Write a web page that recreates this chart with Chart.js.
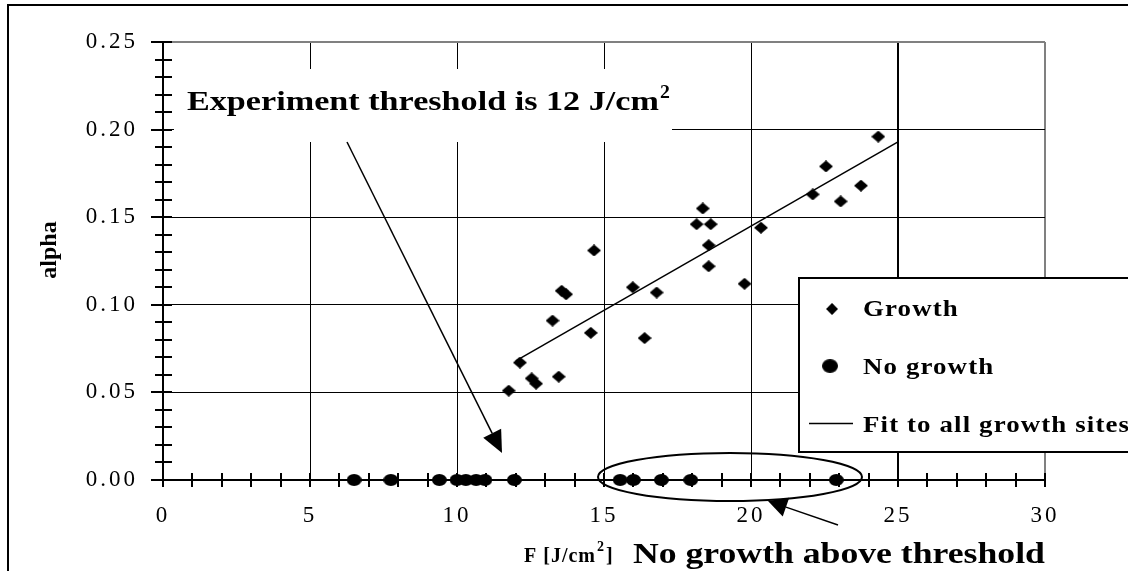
<!DOCTYPE html>
<html>
<head>
<meta charset="utf-8">
<script src="https://cdn.jsdelivr.net/npm/chart.js@4.4.1/dist/chart.umd.min.js"></script>
<style>
body{margin:0;background:#fff}
canvas{display:block}
</style>
</head>
<body>
<canvas id="mychart" width="1128" height="571"></canvas>
<script>
// growth sites (F in J/cm2, alpha)
const growthF = [11.76,12.14,12.54,12.69,13.25,13.46,13.56,13.71,14.55,14.66,15.98,16.38,16.79,18.15,18.36,18.56,18.56,18.63,19.78,20.34,22.1,22.55,23.05,23.74,24.33]
const growthAlpha = [0.051,0.067,0.058,0.055,0.091,0.059,0.108,0.106,0.084,0.131,0.110,0.081,0.107,0.146,0.155,0.134,0.122,0.146,0.112,0.144,0.163,0.179,0.159,0.168,0.196]

// no growth sites, all on alpha = 0
const noGrowthF = [6.5,7.75,9.4,10.0,10.3,10.65,10.95,11.95,15.55,16.0,16.95,17.95,22.9]
const noGrowthAlpha = [0,0,0,0,0,0,0,0,0,0,0,0,0]

// linear fit to all growth sites
const fitF = [12, 25]
const fitAlpha = [0.068, 0.193]

const seriesNames = ['Growth', 'No growth', 'Fit to all growth sites']
const xTicks = [0, 5, 10, 15, 20, 25, 30]
const yTicks = [0, 0.05, 0.10, 0.15, 0.20, 0.25]

const serif = '"Liberation Serif", "Times New Roman", serif'

function makeMarker(w, h, round) {
	const c = document.createElement('canvas')
	c.width = w
	c.height = h
	const g = c.getContext('2d')
	g.fillStyle = '#000'
	g.beginPath()
	if (round) {
		g.ellipse(w / 2, h / 2, w / 2, h / 2, 0, 0, Math.PI * 2)
	} else {
		g.moveTo(w / 2, 0)
		g.lineTo(w, h / 2)
		g.lineTo(w / 2, h)
		g.lineTo(0, h / 2)
		g.closePath()
	}
	g.fill()
	return c
}
const diamond = makeMarker(14, 12, false)
const dot = makeMarker(15, 12, true)

function toPoints(xs, ys) {
	return xs.map((x, i) => ({x: x, y: ys[i]}))
}

// bold serif text, stretched sideways like the original
function wideText(ctx, text, x, y, size, sx, spacing) {
	ctx.save()
	ctx.font = 'bold ' + size + 'px ' + serif
	ctx.letterSpacing = (spacing || 0) + 'px'
	ctx.textAlign = 'left'
	ctx.textBaseline = 'alphabetic'
	ctx.fillStyle = '#000'
	ctx.translate(x, y)
	ctx.scale(sx, 1)
	ctx.fillText(text, 0, 0)
	const w = ctx.measureText(text).width * sx
	ctx.restore()
	return x + w
}

function arrow(ctx, x1, y1, x2, y2, len, half) {
	const a = Math.atan2(y2 - y1, x2 - x1)
	const bx = x2 - len * Math.cos(a)
	const by = y2 - len * Math.sin(a)
	ctx.beginPath()
	ctx.moveTo(x1, y1)
	ctx.lineTo(bx, by)
	ctx.stroke()
	ctx.beginPath()
	ctx.moveTo(x2, y2)
	ctx.lineTo(bx + half * Math.sin(a), by - half * Math.cos(a))
	ctx.lineTo(bx - half * Math.sin(a), by + half * Math.cos(a))
	ctx.closePath()
	ctx.fill()
}

const decorations = {
	id: 'decorations',
	beforeDraw(chart) {
		// tick labels in the original are widely spaced
		chart.ctx.letterSpacing = '3px'
	},
	beforeDatasetsDraw(chart) {
		// white box behind the threshold caption hides the grid
		const ctx = chart.ctx
		ctx.save()
		ctx.fillStyle = '#fff'
		ctx.fillRect(174, 69, 498, 73)
		ctx.restore()
	},
	afterDraw(chart) {
		const ctx = chart.ctx
		const xs = chart.scales.x
		const ys = chart.scales.y
		const ax = xs.left
		const ay = ys.bottom
		ctx.save()
		ctx.letterSpacing = '0px'
		ctx.strokeStyle = '#000'
		ctx.fillStyle = '#000'

		// minor ticks crossing both axes
		ctx.lineWidth = 2
		for (let i = 0; i <= 25; i++) {
			const py = Math.round(ys.getPixelForValue(i / 100))
			ctx.beginPath()
			ctx.moveTo(ax - (i % 5 == 0 ? 12 : 8), py)
			ctx.lineTo(ax + 9, py)
			ctx.stroke()
		}
		for (let i = 0; i <= 30; i++) {
			const px = Math.round(xs.getPixelForValue(i))
			ctx.beginPath()
			ctx.moveTo(px, ay - 7)
			ctx.lineTo(px, ay + 7)
			ctx.stroke()
		}

		// ellipse round the no growth sites above threshold
		ctx.lineWidth = 2
		ctx.beginPath()
		ctx.ellipse(730, 477, 132, 24, 0, 0, Math.PI * 2)
		ctx.stroke()

		// arrows
		ctx.lineWidth = 1.5
		arrow(ctx, 347, 142, 502, 453, 22, 10)
		arrow(ctx, 838, 525, 768, 501, 19, 10)

		// captions
		let end = wideText(ctx, 'Experiment threshold is 12 J/cm', 187, 110, 28, 1.22)
		wideText(ctx, '2', end + 1, 98, 18, 1.1)

		end = wideText(ctx, 'F [J/cm', 524, 562, 20, 1.0, 1)
		end = wideText(ctx, '2', end + 1, 551, 14, 1.0)
		wideText(ctx, ']', end + 2, 562, 20, 1.0)
		wideText(ctx, 'No growth above threshold', 633, 563, 29, 1.23)

		ctx.save()
		ctx.translate(50, 250)
		ctx.rotate(-Math.PI / 2)
		ctx.font = 'bold 24px ' + serif
		ctx.textAlign = 'center'
		ctx.textBaseline = 'middle'
		ctx.fillText('alpha', 0, 0)
		ctx.restore()

		// legend box
		const ds = chart.data.datasets
		ctx.fillStyle = '#fff'
		ctx.fillRect(799, 278, 340, 174)
		ctx.lineWidth = 2
		ctx.strokeRect(799, 278, 340, 174)
		ctx.fillStyle = '#000'
		ctx.drawImage(ds[0].pointStyle, 832 - 6, 309 - 6, 12, 12)
		ctx.drawImage(ds[1].pointStyle, 830 - 8, 366 - 7, 16, 14)
		ctx.lineWidth = 1.5
		ctx.beginPath()
		ctx.moveTo(809, 423.5)
		ctx.lineTo(853, 423.5)
		ctx.stroke()
		wideText(ctx, ds[0].label, 863, 316, 24, 1.12, 1)
		wideText(ctx, ds[1].label, 863, 374, 24, 1.12, 1)
		wideText(ctx, ds[2].label, 863, 432, 24, 1.12, 1)

		// outer frame
		ctx.lineWidth = 2
		ctx.strokeRect(8, 5, 1300, 800)
		ctx.restore()
	}
}

const canvasforchart = document.getElementById('mychart')
new Chart(canvasforchart, {
	type: 'scatter',
	data: {
		datasets: [{
			label: seriesNames[0],
			data: toPoints(growthF, growthAlpha),
			pointStyle: diamond,
			pointRadius: 7,
			backgroundColor: '#000',
			borderColor: '#000',
			clip: false
		}, {
			label: seriesNames[1],
			data: toPoints(noGrowthF, noGrowthAlpha),
			pointStyle: dot,
			pointRadius: 7,
			backgroundColor: '#000',
			borderColor: '#000',
			clip: false
		}, {
			label: seriesNames[2],
			data: toPoints(fitF, fitAlpha),
			showLine: true,
			pointRadius: 0,
			borderColor: '#000',
			borderWidth: 1.5,
			fill: false,
			clip: false
		}]
	},
	options: {
		responsive: false,
		animation: false,
		layout: {padding: {top: 42, right: 83, left: 0, bottom: 0}},
		plugins: {legend: {display: false}, tooltip: {enabled: false}},
		scales: {
			x: {
				type: 'linear',
				min: 0,
				max: 30,
				afterBuildTicks: function(scale) {
					scale.ticks = xTicks.map(v => ({value: v}))
				},
				afterFit: function(scale) {
					scale.height = 91
					scale.paddingLeft = 0
					scale.paddingRight = 0
				},
				ticks: {
					color: '#000',
					font: {family: serif, size: 23},
					padding: 22,
					maxRotation: 0,
					callback: v => String(v)
				},
				grid: {
					drawTicks: false,
					color: c => c.tick && c.tick.value == 30 ? '#808080' : '#000',
					lineWidth: c => c.tick && (c.tick.value == 25 || c.tick.value == 30) ? 2 : 1
				},
				border: {color: '#000', width: 2}
			},
			y: {
				type: 'linear',
				min: 0,
				max: 0.25,
				afterBuildTicks: function(scale) {
					scale.ticks = yTicks.map(v => ({value: v}))
				},
				afterFit: function(scale) {
					scale.width = 163
					scale.paddingTop = 0
					scale.paddingBottom = 0
				},
				ticks: {
					color: '#000',
					font: {family: serif, size: 23},
					padding: 25,
					callback: v => v.toFixed(2)
				},
				grid: {
					drawTicks: false,
					color: c => c.tick && c.tick.value == 0.25 ? '#808080' : '#000',
					lineWidth: c => c.tick && c.tick.value == 0.25 ? 2 : 1
				},
				border: {color: '#000', width: 2}
			}
		}
	},
	plugins: [decorations]
})
</script>
</body>
</html>
